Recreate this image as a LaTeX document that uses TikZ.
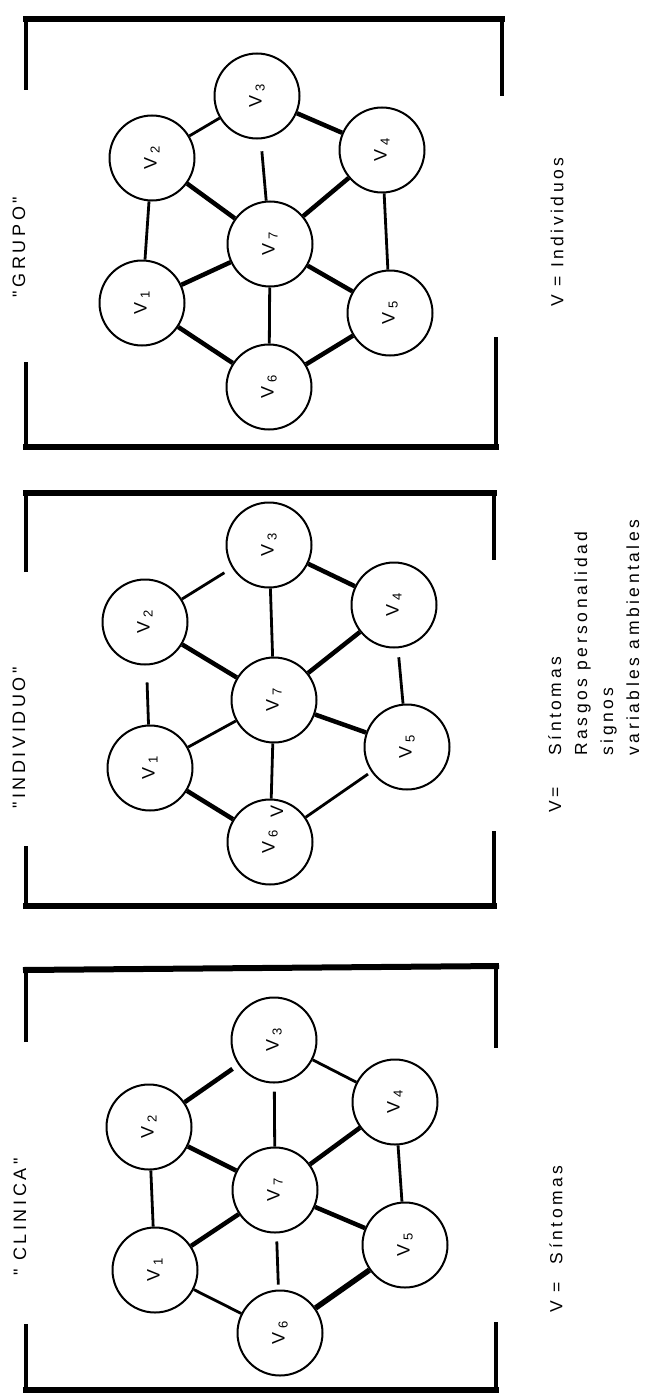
\documentclass[tikz,border=0pt]{standalone}
\usepackage{fontspec}
\setmainfont{Liberation Sans}
\newfontfamily\spaced[LetterSpace=20]{Liberation Sans}
\newcommand{\vn}[1]{V\kern4pt\raisebox{-3pt}{\fontsize{13}{13}\selectfont #1}}
\tikzset{
  vtx/.style={circle, draw, line width=2pt, minimum size=85pt, inner sep=0pt, rotate=90,
    font=\fontsize{18}{18}\selectfont},
  thinE/.style={line width=2.8pt},
  thickE/.style={line width=4.5pt},
  brH/.style={line width=6pt},
  brV/.style={line width=4pt},
  ttl/.style={rotate=90, inner sep=0pt, font=\spaced\fontsize{18}{18}\selectfont},
  lgd/.style={rotate=90, inner sep=0pt, font=\spaced\fontsize{17.5}{26}\selectfont},
  stray/.style={rotate=90, inner sep=0pt, font=\fontsize{18}{18}\selectfont}
}
\begin{document}
\begin{tikzpicture}[x=1pt, y=-1pt]
\fill[white] (0,0) rectangle (649,1394);
\useasboundingbox (0,0) rectangle (649,1394);

% ---------------- GRUPO ----------------
\draw[brV] (26,90) -- (26,19);
\draw[brH] (23,19) -- (505,19);
\draw[brV] (502,19) -- (502,96);
\draw[brV] (26,362) -- (26,447);
\draw[brH] (23,447) -- (499,447);
\draw[brV] (496,447) -- (496,337);

\node[vtx] (g1) at (142,303) {\vn{1}};
\node[vtx] (g2) at (152,158) {\vn{2}};
\node[vtx] (g3) at (257,96)  {\vn{3}};
\node[vtx] (g4) at (382,150) {\vn{4}};
\node[vtx] (g5) at (390,313) {\vn{5}};
\node[vtx] (g6) at (269,387) {\vn{6}};
\node[vtx] (g7) at (270,244) {\vn{7}};

\draw[thickE] (g3) -- (g4);
\draw[thickE] (g2) -- (g7);
\draw[thickE] (g4) -- (g7);
\draw[thickE] (g1) -- (g7);
\draw[thickE] (g7) -- (g5);
\draw[thickE] (g1) -- (g6);
\draw[thickE] (g5) -- (g6);
\draw[thinE] (g2) -- (g3);
\draw[thinE, shorten <=12pt] (g3) -- (g7);
\draw[thinE] (g2) -- (g1);
\draw[thinE] (g4) -- (g5);
\draw[thinE] (g7) -- (g6);

\node[ttl] (tg) at (19,247) {"GRUPO"};
\node[lgd] (lg) at (557,232) {V = Individuos};

% ---------------- INDIVIDUO ----------------
\draw[brV] (26,572) -- (26,493);
\draw[brH] (23,493) -- (497,493);
\draw[brV] (494,493) -- (494,560);
\draw[brV] (26,846) -- (26,906);
\draw[brH] (23,906) -- (497,906);
\draw[brV] (494,906) -- (494,831);

\node[vtx] (i1) at (150,768) {\vn{1}};
\node[vtx] (i2) at (145,622) {\vn{2}};
\node[vtx] (i3) at (269,545) {\vn{3}};
\node[vtx] (i4) at (394,605) {\vn{4}};
\node[vtx] (i5) at (407,747) {\vn{5}};
\node[vtx] (i6) at (270,842) {\vn{6}};
\node[vtx] (i7) at (274,700) {\vn{7}};
\node[stray] (i6x) at (277,811) {V};

\draw[thickE] (i3) -- (i4);
\draw[thickE] (i2) -- (i7);
\draw[thickE] (i4) -- (i7);
\draw[thickE] (i7) -- (i5);
\draw[thickE] (i1) -- (i6);
\draw[thinE, shorten >=9pt] (i2) -- (i3);
\draw[thinE] (i3) -- (i7);
\draw[thinE, shorten <=17pt] (i2) -- (i1);
\draw[thinE, shorten <=9pt] (i4) -- (i5);
\draw[thinE] (i1) -- (i7);
\draw[thinE] (i7) -- (i6);
\draw[thinE, shorten <=4pt] (i5) -- (i6);

\node[ttl] (ti) at (19,738) {"INDIVIDUO"};
\node[lgd, anchor=west] (li) at (595,813) {%
  \begin{tabular}{@{}l@{\hspace{32pt}}l@{}}
  V= & Síntomas\\
     & Rasgos personalidad\\
     & signos\\
     & variables ambientales
  \end{tabular}};

% ---------------- CLINICA ----------------
\draw[brV] (26,1042) -- (26,970);
\draw[brH] (23,970) -- (499,966);
\draw[brV] (496,966) -- (496,1048);
\draw[brV] (26,1324) -- (26,1390);
\draw[brH] (23,1390) -- (499,1390);
\draw[brV] (496,1390) -- (496,1322);

\node[vtx] (c1) at (155,1270) {\vn{1}};
\node[vtx] (c2) at (149,1127) {\vn{2}};
\node[vtx] (c3) at (274,1040) {\vn{3}};
\node[vtx] (c4) at (395,1102) {\vn{4}};
\node[vtx] (c5) at (405,1245) {\vn{5}};
\node[vtx] (c6) at (280,1333) {\vn{6}};
\node[vtx] (c7) at (275,1190) {\vn{7}};

\draw[thickE, shorten >=7pt] (c2) -- (c3);
\draw[thickE] (c2) -- (c7);
\draw[thickE] (c4) -- (c7);
\draw[thickE] (c1) -- (c7);
\draw[thickE] (c7) -- (c5);
\draw[line width=5.5pt] (c5) -- (c6);
\draw[thinE] (c3) -- (c4);
\draw[thinE, shorten <=8pt] (c3) -- (c7);
\draw[thinE] (c2) -- (c1);
\draw[thinE] (c4) -- (c5);
\draw[thinE, shorten <=8pt, shorten >=5pt] (c7) -- (c6);
\draw[thinE] (c1) -- (c6);

\node[ttl] (tc) at (20,1217) {" CLINICA"};
\node[lgd] (lc) at (556,1239) {V =\hspace{18pt}Síntomas};
\end{tikzpicture}
\end{document}
